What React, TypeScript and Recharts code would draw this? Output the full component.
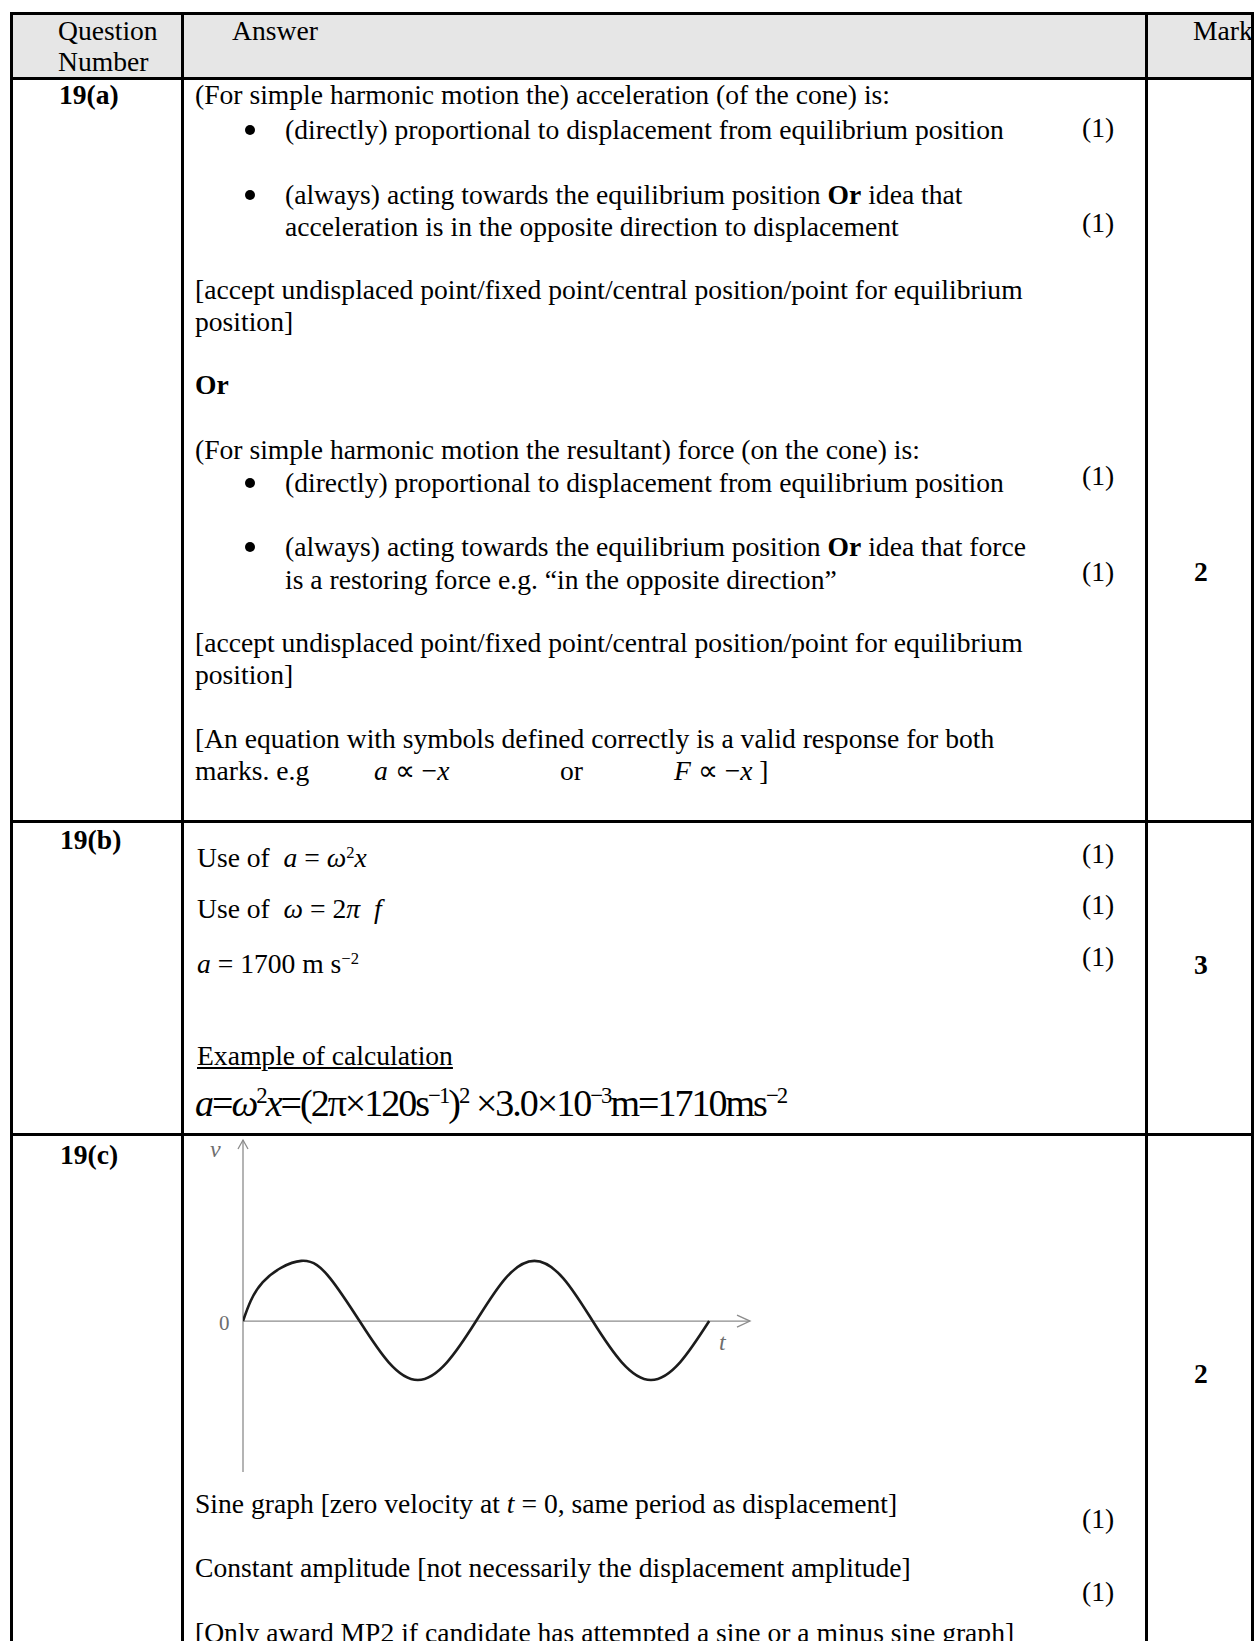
import { LineChart, Line, XAxis, YAxis, ReferenceLine } from "recharts";

// t in quarter-periods, v in units of the amplitude
const tQuarter = [0, 0.34, 1, 1.5, 2, 2.5, 3, 3.5, 4, 4.5, 5, 5.5, 6, 6.5, 7, 7.5, 8];
const vRead = [0, 0.66, 1.02, 0.72, 0, -0.7, -1.0, -0.7, 0, 0.72, 1.02, 0.72, 0, -0.7, -1.0, -0.7, 0];
const tDomain: [number, number] = [0, 8.7];
const vDomain: [number, number] = [-2.56, 3.07];
const vAxisLabel = "v";
const tAxisLabel = "t";
const originLabel = "0";

const data = tQuarter.map((t, i) => ({ t, v: vRead[i] }));

const AXIS = "#8c8c8c";

const AxisV = (p: any) => {
  const top = Math.min(p.y1, p.y2);
  const bot = Math.max(p.y1, p.y2);
  return (
    <g>
      <line x1={p.x1} y1={bot} x2={p.x1} y2={top} stroke={AXIS} strokeWidth={1.3} />
      <polyline points={`${p.x1 - 5},${top + 9} ${p.x1},${top} ${p.x1 + 5},${top + 9}`} fill="none" stroke={AXIS} strokeWidth={1.3} />
    </g>
  );
};

const AxisH = (p: any) => {
  const left = Math.min(p.x1, p.x2);
  const right = Math.max(p.x1, p.x2);
  return (
    <g>
      <line x1={left} y1={p.y1} x2={right} y2={p.y1} stroke={AXIS} strokeWidth={1.3} />
      <polyline points={`${right - 13},${p.y1 - 6} ${right},${p.y1} ${right - 13},${p.y1 + 6}`} fill="none" stroke={AXIS} strokeWidth={1.3} />
    </g>
  );
};

const VLabel = ({ viewBox }: any) => (
  <text x={viewBox.x - 33} y={viewBox.y + 17} fontFamily="Liberation Serif" fontStyle="italic" fontSize={24} fill="#6e6e6e">
    {vAxisLabel}
  </text>
);

const HLabels = ({ viewBox }: any) => (
  <g fontFamily="Liberation Serif" fill="#6e6e6e">
    <text x={viewBox.x - 24} y={viewBox.y + 9} fontSize={21}>{originLabel}</text>
    <text x={viewBox.x + viewBox.width - 31} y={viewBox.y + 29} fontSize={24} fontStyle="italic">{tAxisLabel}</text>
  </g>
);

function VelocitySketch() {
  return (
    <LineChart width={580} height={338} data={data} margin={{ top: 3, right: 20, bottom: 3, left: 53 }}>
      <XAxis dataKey="t" type="number" domain={tDomain} allowDataOverflow hide />
      <YAxis type="number" domain={vDomain} allowDataOverflow hide />
      <ReferenceLine x={0} shape={AxisV} label={<VLabel />} />
      <ReferenceLine y={0} shape={AxisH} label={<HLabels />} />
      <Line type="natural" dataKey="v" stroke="#1c1c1c" strokeWidth={2.6} dot={false} isAnimationActive={false} />
    </LineChart>
  );
}

const T = ({ x, y, children, bold, style }: any) => (
  <div
    style={{
      position: "absolute",
      left: x,
      top: y - 15,
      lineHeight: "30px",
      whiteSpace: "nowrap",
      fontWeight: bold ? 700 : 400,
      ...style,
    }}
  >
    {children}
  </div>
);

const I = ({ children }: any) => <i>{children}</i>;
const Sup = ({ children }: any) => (
  <sup style={{ fontSize: "0.6em", verticalAlign: "0.55em", lineHeight: 0 }}>{children}</sup>
);
const Bullet = ({ y }: any) => (
  <div style={{ position: "absolute", left: 245, top: y - 5, width: 10, height: 10, borderRadius: 5, background: "#000" }} />
);

const HLine = ({ y, x1 = 10, x2 = 1254 }: any) => (
  <div style={{ position: "absolute", left: x1, top: y - 1.5, width: x2 - x1, height: 3, background: "#000" }} />
);
const VLine = ({ x, y1 = 12, y2 = 1641 }: any) => (
  <div style={{ position: "absolute", left: x - 1.5, top: y1, width: 3, height: y2 - y1, background: "#000" }} />
);

export default function App() {
  return (
    <div
      style={{
        position: "absolute",
        left: 0,
        top: 0,
        width: 1254,
        height: 1641,
        overflow: "hidden",
        background: "#fff",
        color: "#000",
        fontFamily: "'Liberation Serif', 'Times New Roman', serif",
        fontSize: 27.6,
      }}
    >
      <div style={{ position: "absolute", left: 10, top: 13, width: 1244, height: 65, background: "#e6e6e6" }} />

      <HLine y={13} />
      <HLine y={78} />
      <HLine y={821} />
      <HLine y={1134} />
      <VLine x={11} />
      <VLine x={182} />
      <VLine x={1146} />
      <VLine x={1252} />

      {/* header */}
      <T x={58} y={31}>Question</T>
      <T x={58} y={62}>Number</T>
      <T x={232} y={31}>Answer</T>
      <T x={1193} y={31}>Mark</T>

      {/* 19(a) */}
      <T x={59} y={95} bold>19(a)</T>
      <T x={195} y={95}>(For simple harmonic motion the) acceleration (of the cone) is:</T>
      <Bullet y={130} />
      <T x={285} y={130}>(directly) proportional to displacement from equilibrium position</T>
      <T x={1082} y={128}>(1)</T>
      <Bullet y={195} />
      <T x={285} y={195}>(always) acting towards the equilibrium position <b>Or</b> idea that</T>
      <T x={285} y={227}>acceleration is in the opposite direction to displacement</T>
      <T x={1082} y={223}>(1)</T>
      <T x={195} y={290}>[accept undisplaced point/fixed point/central position/point for equilibrium</T>
      <T x={195} y={322}>position]</T>
      <T x={195} y={385} bold>Or</T>
      <T x={195} y={450}>(For simple harmonic motion the resultant) force (on the cone) is:</T>
      <Bullet y={483} />
      <T x={285} y={483}>(directly) proportional to displacement from equilibrium position</T>
      <T x={1082} y={476}>(1)</T>
      <Bullet y={547} />
      <T x={285} y={547}>(always) acting towards the equilibrium position <b>Or</b> idea that force</T>
      <T x={285} y={580}>is a restoring force e.g. “in the opposite direction”</T>
      <T x={1082} y={572}>(1)</T>
      <T x={1194} y={572} bold>2</T>
      <T x={195} y={643}>[accept undisplaced point/fixed point/central position/point for equilibrium</T>
      <T x={195} y={675}>position]</T>
      <T x={195} y={739}>[An equation with symbols defined correctly is a valid response for both</T>
      <T x={195} y={771}>marks. e.g</T>
      <T x={374} y={771}><I>a</I> ∝ −<I>x</I></T>
      <T x={560} y={771}>or</T>
      <T x={674} y={771}><I>F</I> ∝ −<I>x</I> ]</T>

      {/* 19(b) */}
      <T x={60} y={840} bold>19(b)</T>
      <T x={197} y={858}>Use of &nbsp;<I>a</I> = <I>ω</I><Sup>2</Sup><I>x</I></T>
      <T x={1082} y={854}>(1)</T>
      <T x={197} y={909}>Use of &nbsp;<I>ω</I> = 2<I>π</I> &nbsp;<I>f</I></T>
      <T x={1082} y={905}>(1)</T>
      <T x={197} y={964}><I>a</I> = 1700 m s<Sup>−2</Sup></T>
      <T x={1082} y={957}>(1)</T>
      <T x={1194} y={965} bold>3</T>
      <T x={197} y={1056} style={{ textDecoration: "underline" }}>Example of calculation</T>
      <T x={195} y={1104} style={{ fontSize: 38, letterSpacing: -2, lineHeight: "42px", top: 1082 }}>
        <I>a</I>=<I>ω</I><Sup>2</Sup><I>x</I>=(2π×120s<Sup>−1</Sup>)<Sup>2</Sup> ×3.0×10<Sup>−3</Sup>m=1710ms<Sup>−2</Sup>
      </T>

      {/* 19(c) */}
      <T x={60} y={1155} bold>19(c)</T>
      <div style={{ position: "absolute", left: 190, top: 1137 }}>
        <VelocitySketch />
      </div>
      <T x={1194} y={1374} bold>2</T>
      <T x={195} y={1504}>Sine graph [zero velocity at <I>t</I> = 0, same period as displacement]</T>
      <T x={1082} y={1519}>(1)</T>
      <T x={195} y={1568}>Constant amplitude [not necessarily the displacement amplitude]</T>
      <T x={1082} y={1592}>(1)</T>
      <T x={195} y={1633}>[Only award MP2 if candidate has attempted a sine or a minus sine graph]</T>
    </div>
  );
}
